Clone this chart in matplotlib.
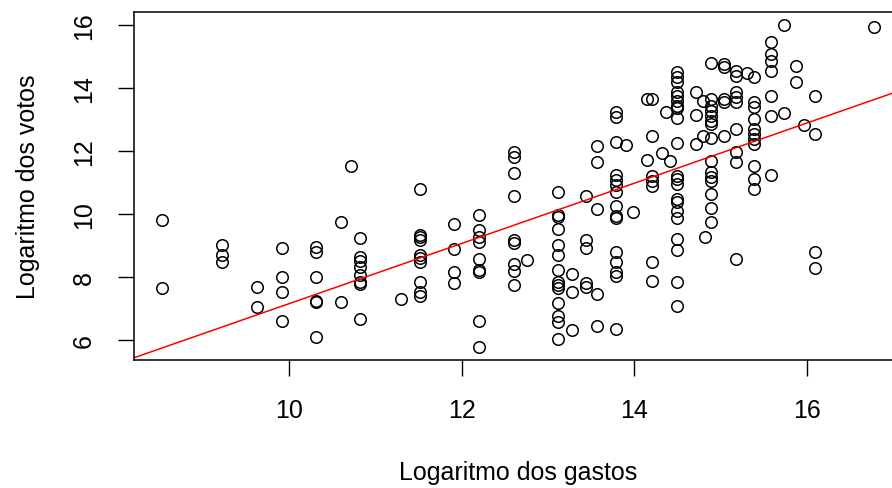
import numpy as np
import matplotlib
matplotlib.use("Agg")
import matplotlib.pyplot as plt

plt.rcParams["font.family"] = ["Liberation Sans", "DejaVu Sans"]

# log of campaign spending (x) and log of votes (y), one entry per candidate
gastos = (
    [8.53] * 2 + [9.22] * 3 + [9.63] * 2 + [9.91] * 4 + [10.31] * 6
    + [10.60] * 2 + [10.72] + [10.82] * 8 + [11.29] + [11.51] * 10
    + [11.91] * 4 + [12.20] * 9 + [12.60] * 9 + [12.75] + [13.11] * 14
    + [13.28] * 3 + [13.44] * 5 + [13.57] * 5 + [13.79] * 15 + [13.90]
    + [13.98] + [14.14] * 2 + [14.20] * 7 + [14.32] + [14.37] + [14.41]
    + [14.49] * 21 + [14.71] * 3 + [14.79] * 2 + [14.82] + [14.89] * 15
    + [15.04] * 5 + [15.18] * 9 + [15.30] + [15.39] * 11 + [15.58] * 7
    + [15.73] * 2 + [15.87] * 2 + [15.97] + [16.09] * 4 + [16.77]
)
votos = [
    9.81, 7.65,
    9.02, 8.70, 8.48,
    7.68, 7.05,
    8.92, 8.00, 7.52, 6.60,
    8.95, 8.79, 8.00, 7.24, 7.21, 6.10,
    9.75, 7.21,
    11.52,
    9.24, 8.63, 8.51, 8.32, 8.06, 7.85, 7.78, 6.67,
    7.30,
    10.79, 9.33, 9.27, 9.17, 8.70, 8.60, 8.48, 7.84, 7.52, 7.40,
    9.68, 8.89, 8.16, 7.81,
    9.97, 9.49, 9.27, 9.11, 8.57, 8.22, 8.16, 6.60, 5.78,
    11.97, 11.81, 11.30, 10.57, 9.17, 9.08, 8.41, 8.19, 7.75,
    8.54,
    10.70, 9.97, 9.90, 9.52, 9.02, 8.70, 8.22, 7.84, 7.75, 7.65, 7.17, 6.76, 6.57, 6.03,
    8.10, 7.52, 6.32,
    10.57, 9.17, 8.92, 7.81, 7.68,
    12.16, 11.65, 10.16, 7.46, 6.44,
    13.24, 13.08, 12.29, 11.24, 11.08, 10.92, 10.70, 10.25, 9.95, 9.87, 8.79, 8.48, 8.16, 8.03,
    6.35,
    12.19,
    10.06,
    13.65, 11.71,
    13.65, 12.48, 11.21, 11.05, 10.89, 8.48, 7.87,
    11.94,
    13.24,
    11.68,
    14.51, 14.35, 14.19, 13.87, 13.75, 13.59, 13.43, 13.37, 13.05, 12.25, 11.21, 11.11, 10.95,
    10.48, 10.38, 10.10, 9.87, 9.21, 8.86, 7.84, 7.08,
    13.87, 13.14, 12.22,
    13.59, 12.48,
    9.27,
    14.79, 13.65, 13.43, 13.27, 13.11, 12.95, 12.86, 12.41, 11.68, 11.33, 11.17, 11.05, 10.63,
    10.19, 9.75,
    14.76, 14.67, 13.65, 13.56, 12.48,
    14.54, 14.38, 13.87, 13.71, 13.56, 12.70, 11.97, 11.65, 8.57,
    14.48,
    14.35, 13.56, 13.40, 13.02, 12.70, 12.54, 12.38, 12.22, 11.52, 11.11, 10.79,
    15.46, 15.08, 14.86, 14.54, 13.75, 13.11, 11.24,
    16.00, 13.21,
    14.70, 14.19,
    12.83,
    13.75, 12.54, 8.79, 8.29,
    15.94,
]

# fitted regression line (votos ~ gastos)
intercepto = -2.39
inclinacao = 0.955

x_ticks = [10, 12, 14, 16]
y_ticks = [6, 8, 10, 12, 14, 16]

fig = plt.figure(figsize=(8.92, 4.89), dpi=100)
ax = fig.add_axes([134 / 892, 1 - 361 / 489, (902 - 134) / 892, 348 / 489])

ax.plot(gastos, votos, linestyle="none", marker="o", markersize=8.3,
        markerfacecolor="none", markeredgecolor="black", markeredgewidth=1.1)

x_lim = (8.20, 17.10)
y_lim = (5.37, 16.41)
xs = np.array(x_lim)
ax.plot(xs, intercepto + inclinacao * xs, color="red", linewidth=1.1)

ax.set_xlim(*x_lim)
ax.set_ylim(*y_lim)
ax.set_xticks(x_ticks)
ax.set_yticks(y_ticks)
ax.tick_params(axis="both", direction="out", length=11.5, width=1.0, labelsize=18,
               pad=16)
plt.setp(ax.get_yticklabels(), rotation=90, va="center")

for side in ["left", "bottom", "top", "right"]:
    ax.spines[side].set_linewidth(1.1)

ax.set_xlabel("Logaritmo dos gastos", fontsize=18, labelpad=27)
ax.set_ylabel("Logaritmo dos votos", fontsize=18, labelpad=23)

fig.savefig("out.png", dpi=100)
